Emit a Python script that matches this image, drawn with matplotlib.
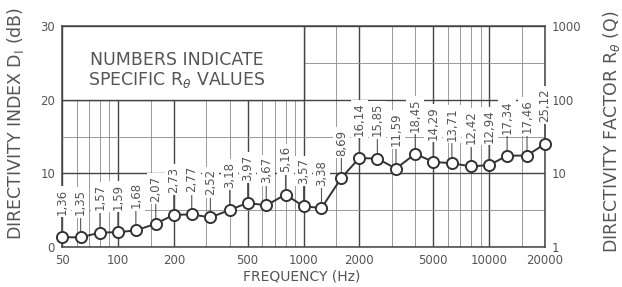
import matplotlib
matplotlib.use("Agg")
import matplotlib.pyplot as plt
from matplotlib.patches import Rectangle
from matplotlib.ticker import NullLocator, FixedLocator, NullFormatter

# ---- data ----
freqs = [50, 63, 80, 100, 125, 160, 200, 250, 315, 400, 500, 630, 800, 1000,
         1250, 1600, 2000, 2500, 3150, 4000, 5000, 6300, 8000, 10000, 12500,
         16000, 20000]
q_values = [1.36, 1.35, 1.57, 1.59, 1.68, 2.07, 2.73, 2.77, 2.52, 3.18, 3.97,
            3.67, 5.16, 3.57, 3.38, 8.69, 16.14, 15.85, 11.59, 18.45, 14.29,
            13.71, 12.42, 12.94, 17.34, 17.46, 25.12]
q_labels = [f"{v:.2f}".replace(".", ",") for v in q_values]

x_major = [50, 100, 200, 500, 1000, 2000, 5000, 10000, 20000]
x_major_labels = ["50", "100", "200", "500", "1000", "2000", "5000", "10000", "20000"]
x_minor = [60, 70, 80, 90, 150, 300, 400, 600, 700, 800, 900, 1500, 3000,
           4000, 6000, 7000, 8000, 9000, 15000]
di_ticks = [0, 10, 20, 30]
di_minor = [5, 15, 25]
q_ticks = [1, 10, 100, 1000]

TXT = "#555555"
LINE = "#333333"

fig = plt.figure(figsize=(6.22, 2.87), dpi=100)
ax = fig.add_axes([62 / 622, 40 / 287, 483 / 622, 221 / 287])
ax.set_xscale("log")
ax.set_xlim(50, 20000)
ax.set_ylim(0, 30)
ax.xaxis.set_major_locator(FixedLocator(x_major))
ax.set_xticklabels(x_major_labels)
ax.xaxis.set_minor_locator(FixedLocator(x_minor))
ax.xaxis.set_minor_formatter(NullFormatter())
ax.set_yticks(di_ticks)
ax.yaxis.set_minor_locator(FixedLocator(di_minor))
ax.yaxis.set_minor_formatter(NullFormatter())
ax.grid(which="major", color="#444444", lw=1.0)
ax.grid(which="minor", color="#8a8a8a", lw=0.6)
ax.tick_params(which="both", length=0, labelsize=8.5, labelcolor=TXT, pad=5)
for s in ax.spines.values():
    s.set_color("#444444")
    s.set_linewidth(1.1)

# white note box in upper-left corner
ax.add_patch(Rectangle((50, 20), 1000 - 50, 10, facecolor="white",
                       edgecolor="#444444", lw=1.0, zorder=2.5))
ax.text(0.238, 0.80, "NUMBERS INDICATE\nSPECIFIC R$_\\theta$ VALUES",
        transform=ax.transAxes, ha="center", va="center", fontsize=12.5,
        color=TXT, linespacing=1.05, zorder=3)

ax2 = ax.twinx()
ax2.set_yscale("log")
ax2.set_ylim(1, 1000)
ax2.yaxis.set_major_locator(FixedLocator(q_ticks))
ax2.yaxis.set_minor_locator(NullLocator())
ax2.set_yticklabels([str(t) for t in q_ticks])
ax2.tick_params(which="both", length=0, labelsize=8.5, labelcolor=TXT, pad=5)
for s in ax2.spines.values():
    s.set_visible(False)

ax2.plot(freqs, q_values, color=LINE, lw=1.4, marker="o", markersize=8,
         markerfacecolor="white", markeredgecolor=LINE, markeredgewidth=1.4,
         zorder=5, clip_on=False)

for f, q, lab in zip(freqs, q_values, q_labels):
    ax2.annotate(lab, xy=(f, q), xytext=(0, 16), textcoords="offset points",
                 rotation=90, ha="center", va="bottom", fontsize=8.5, color=TXT,
                 bbox=dict(boxstyle="square,pad=0.2", fc="white", ec="none"),
                 arrowprops=dict(arrowstyle="-", color="#555555", lw=0.8,
                                 shrinkA=0, shrinkB=4),
                 zorder=4, annotation_clip=False)

fig.text(16 / 622, 1 - 124 / 287, "DIRECTIVITY INDEX D$_\\mathregular{I}$ (dB)",
         rotation=90, ha="center", va="center", fontsize=12.5, color=TXT)
fig.text(611 / 622, 1 - 132 / 287, "DIRECTIVITY FACTOR R$_\\theta$ (Q)",
         rotation=90, ha="center", va="center", fontsize=12.5, color=TXT)
fig.text(302 / 622, 1 - 277 / 287, "FREQUENCY (Hz)", ha="center", va="center",
         fontsize=10, color=TXT)

fig.savefig("out.png", dpi=100, facecolor="white")
